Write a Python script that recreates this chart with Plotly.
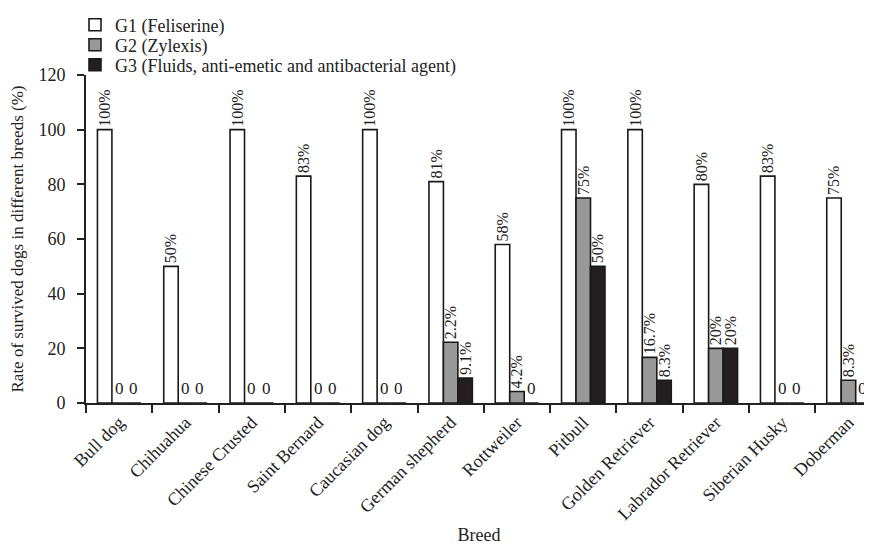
import plotly.graph_objects as go

breeds = ["Bull dog", "Chihuahua", "Chinese Crusted", "Saint Bernard", "Caucasian dog",
          "German shepherd", "Rottweiler", "Pitbull", "Golden Retriever",
          "Labrador Retriever", "Siberian Husky", "Doberman"]
series_names = ["G1 (Feliserine)", "G2 (Zylexis)",
                "G3 (Fluids, anti-emetic and antibacterial agent)"]
g1 = [100, 50, 100, 83, 100, 81, 58, 100, 100, 80, 83, 75]
g2 = [0, 0, 0, 0, 0, 22.2, 4.2, 75, 16.7, 20, 0, 8.3]
g3 = [0, 0, 0, 0, 0, 9.1, 0, 50, 8.3, 20, 0, 0]
g1_labels = ["100%", "50%", "100%", "83%", "100%", "81%", "58%", "100%", "100%", "80%", "83%", "75%"]
g2_labels = ["", "", "", "", "", "2.2%", "4.2%", "75%", "16.7%", "20%", "", "8.3%"]
g3_labels = ["", "", "", "", "", "9.1%", "", "50%", "8.3%", "20%", "", ""]
y_ticks = [0, 20, 40, 60, 80, 100, 120]

colors = ["#ffffff", "#999999", "#231f20"]
FONT = "Liberation Serif"
INK = "#222222"

# page body has an 8px margin, so the figure is offset by 8px in the window
W, H = 864, 540
ML, MR, MT, MB = 78, 0, 67, 145
BARGAP = 0.345
X_RANGE = [-0.5, 11.355]
PLOT_H = H - MT - MB

fig = go.Figure()
values = [g1, g2, g3]
labels = [g1_labels, g2_labels, g3_labels]
legend_ids = ["legend", "legend2", "legend3"]
for name, vals, labs, col, lg in zip(series_names, values, labels, colors, legend_ids):
    fig.add_trace(go.Bar(
        x=breeds, y=vals, name=name, text=labs, legend=lg,
        textposition="outside", textangle=-90, constraintext="none",
        textfont=dict(family=FONT, size=16, color=INK),
        marker=dict(color=col, line=dict(color="#1a1a1a", width=1.6)),
        cliponaxis=False,
    ))

# zero-value labels drawn horizontally at the bar's position
cat_px = (W - ML - MR) / (X_RANGE[1] - X_RANGE[0])
bar_px = cat_px * (1 - BARGAP) / 3
for si, vals in enumerate(values):
    for b, v in zip(breeds, vals):
        if v == 0:
            fig.add_annotation(x=b, y=0, text="0", showarrow=False,
                               xshift=(si - 1) * bar_px, yshift=3,
                               yanchor="bottom", xanchor="center",
                               font=dict(family=FONT, size=17, color=INK))

legend_rows_px = [17, 37, 57]  # row centres from top of the figure
leg_x = (67 - ML) / (W - ML - MR)
legend_cfg = {}
for lg, ry in zip(legend_ids, legend_rows_px):
    legend_cfg[lg] = dict(x=leg_x, y=1 + (MT - ry) / PLOT_H, xanchor="left", yanchor="middle",
                          font=dict(family=FONT, size=18, color=INK),
                          bgcolor="rgba(0,0,0,0)")

fig.update_layout(
    width=W, height=H,
    margin=dict(l=ML, r=MR, t=MT, b=MB, autoexpand=False),
    plot_bgcolor="white", paper_bgcolor="white",
    barmode="group", bargap=BARGAP, bargroupgap=0,
    font=dict(family=FONT, size=17, color=INK),
    showlegend=True,
    **legend_cfg,
    xaxis=dict(range=X_RANGE, showline=True, linecolor=INK, linewidth=1.6,
               ticks="outside", tickson="boundaries", ticklen=8, tickwidth=1.6,
               tickcolor=INK, tickangle=-45, automargin=False,
               tickfont=dict(family=FONT, size=18, color=INK),
               title=dict(text="Breed", font=dict(family=FONT, size=18), standoff=6),
               showgrid=False, zeroline=False),
    yaxis=dict(range=[0, 120], tickvals=y_ticks, showline=True, linecolor=INK,
               linewidth=1.6, ticks="outside", ticklen=7, tickwidth=1.6, automargin=False,
               ticklabelstandoff=8,
               tickcolor=INK, tickfont=dict(family=FONT, size=18, color=INK),
               title=dict(text="Rate of survived dogs in different breeds (%)",
                          font=dict(family=FONT, size=17), standoff=14),
               showgrid=False, zeroline=False),
)

fig.write_html("out.html")
